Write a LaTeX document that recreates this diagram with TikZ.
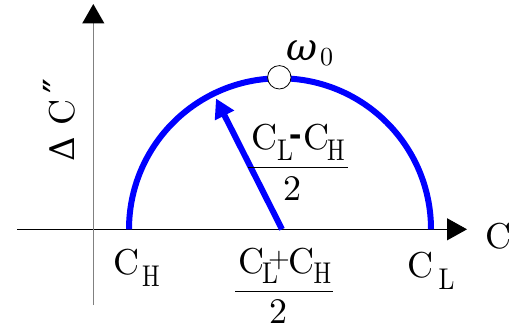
\documentclass[tikz,border=0pt]{standalone}
\usepackage{fontspec}
\setmainfont{lmroman10-regular.otf}
\newfontfamily\grk{DejaVu Serif}
\usetikzlibrary{arrows.meta}
\definecolor{arcblue}{RGB}{0,0,255}
\definecolor{axisgray}{RGB}{128,128,128}
\tikzset{
  lbl/.style={inner sep=0pt, anchor=base, font=\fontsize{36}{36}\selectfont},
  sublbl/.style={inner sep=0pt, anchor=base, font=\fontsize{30}{30}\selectfont},
  fracline/.style={line width=0.9pt, black},
  axisline/.style={line width=1pt},
  bluethick/.style={arcblue, line width=6pt},
}
\begin{document}
\begin{tikzpicture}[x=1pt,y=-1pt]
\useasboundingbox (0,0) rectangle (526,331);
% axes
\coordinate (xs) at (17.3,229.3);
\coordinate (xe) at (467,229.3);
\coordinate (ys) at (93.3,305);
\coordinate (ye) at (93.3,4);
\draw[axisline, -{Triangle[length=20pt,width=22pt]}] (xs) -- (xe);
\draw[axisline, axisgray, line width=1.3pt, -{Triangle[length=19.5pt,width=22pt,color=black]}] (ys) -- (ye);
% semicircle
\coordinate (chpt) at (129,229.3);
\draw[bluethick] (chpt) arc[start angle=180, end angle=360, radius=151];
% radius arrow
\coordinate (ctr) at (282,229.3);
\coordinate (tip) at (216,98.5);
\draw[bluethick, -{Triangle[length=19pt,width=20.5pt]}] (ctr) -- (tip);
% omega_0 point
\node[circle, draw, fill=white, line width=0.8pt, minimum size=23.4pt, inner sep=0pt] (wpt) at (279.3,77.3) {};
\node[inner sep=0pt, anchor=base, font=\grk\itshape\fontsize{38}{38}\selectfont] (om) at (302,60.5) {ω};
\node[inner sep=0pt, anchor=base, font=\fontsize{26}{26}\selectfont] (omsub) at (326.5,65.5) {0};
% axis label C
\node[lbl] (cax) at (498,248.5) {C};
% C_H
\node[lbl] (ch1) at (126.5,274.5) {C};
\node[sublbl] (ch2) at (151,286.7) {\scalebox{0.78}[1]{H}};
% C_L
\node[lbl] (cl1) at (420.5,277.5) {C};
\node[sublbl] (cl2) at (446.5,289.5) {\scalebox{0.85}[1]{L}};
% (C_L - C_H)/2
\node[lbl] (fa1) at (264,149.5) {C};
\node[sublbl] (fa2) at (285,160) {\scalebox{0.85}[1]{L}};
\node[lbl] (fa3) at (296.7,152) {\scalebox{1}[2]{-}};
\node[lbl] (fa4) at (316,149.5) {C};
\node[sublbl] (fa5) at (336,160) {\scalebox{0.78}[1]{H}};
\coordinate (fal) at (248.3,167.3);
\coordinate (far) at (348.3,167.3);
\draw[fracline] (fal) -- (far);
\node[lbl] (fa6) at (292.5,200) {2};
% (C_L + C_H)/2
\node[lbl] (fb1) at (251,273) {C};
\node[sublbl] (fb2) at (270,283.3) {\scalebox{0.85}[1]{L}};
\node[inner sep=0pt, anchor=base, font=\fontsize{28}{28}\selectfont] (fb3) at (279,267) {+};
\node[lbl] (fb4) at (301,273) {C};
\node[sublbl] (fb5) at (322.5,283.3) {\scalebox{0.78}[1]{H}};
\coordinate (fbl) at (235,291);
\coordinate (fbr) at (333.3,291);
\draw[fracline] (fbl) -- (fbr);
\node[lbl] (fb6) at (278.3,323) {2};
% vertical axis label Delta C''
\node[lbl, rotate=90, font=\grk\fontsize{34}{34}\selectfont] (dl) at (74.5,149.5) {Δ};
\node[lbl, rotate=90] (dc) at (74,112.5) {C};
\node[lbl, rotate=90, font=\grk\fontsize{40}{40}\selectfont] (dpp) at (72,86.5) {″};
\end{tikzpicture}
\end{document}
